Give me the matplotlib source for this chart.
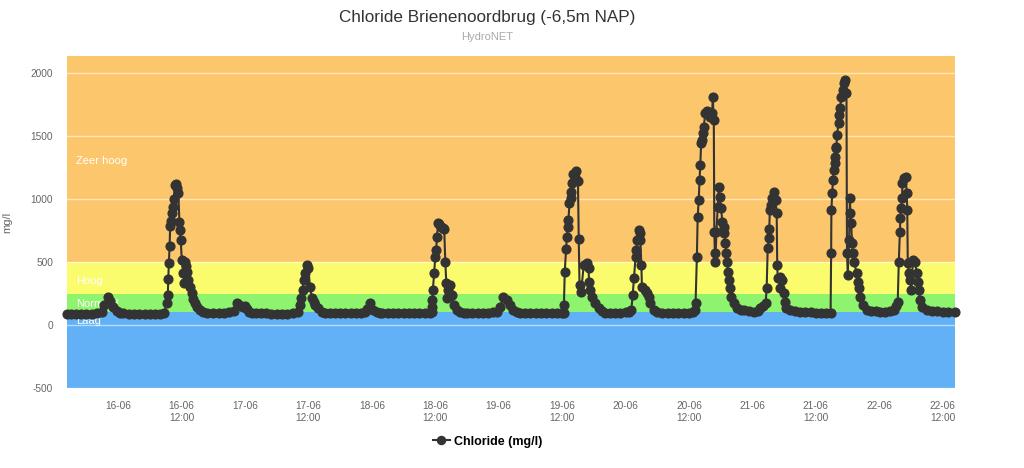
import numpy as np
import matplotlib
matplotlib.use("Agg")
import matplotlib.pyplot as plt
from matplotlib.lines import Line2D

plt.rcParams["font.family"] = ["Liberation Sans", "DejaVu Sans"]

# chloride readings, (hours since 16-06 00:00, mg/l)
readings = [
    (-9.7, 90), (-9, 90), (-8, 90), (-7, 90), (-6, 90), (-5, 91), (-4, 92), (-3.1, 100),
    (-2.65, 160), (-1.95, 222), (-1.5, 190), (-0.9, 145), (-0.25, 108), (0.4, 95),
    (1, 92), (2, 91), (3, 90), (4, 90), (5, 90), (6, 90), (7, 90), (8, 91), (8.6, 95),
    (9.33, 172), (9.4, 238), (9.5, 365), (9.6, 492), (9.75, 627), (9.85, 786), (9.95, 825),
    (10.15, 889), (10.4, 939), (10.5, 1000), (10.8, 1111), (10.9, 1120), (11.1, 1087),
    (11.4, 1048), (11.6, 820), (11.7, 754), (11.85, 675), (12.05, 516), (12.35, 413),
    (12.5, 333), (12.7, 502), (12.8, 470), (13.0, 423), (13.3, 357), (13.6, 300),
    (13.95, 254), (14.2, 210), (14.6, 175), (15.0, 140), (15.5, 119), (16.1, 105), (16.8, 98),
    (18, 93), (19, 95), (20, 97), (21, 102), (22, 112), (22.5, 172), (22.9, 160), (23.3, 150),
    (23.7, 145), (24.0, 150), (24.3, 125), (24.7, 106), (25.3, 98),
    (26, 93), (27, 92), (28, 92), (29, 91), (30, 91), (31, 91), (32, 91), (33, 92),
    (34.1, 106), (34.45, 159), (34.6, 214), (34.9, 278), (35.1, 357), (35.4, 413), (35.7, 476),
    (36.0, 452), (36.3, 304), (36.7, 214), (37.0, 185), (37.3, 159), (37.9, 132), (38.6, 106),
    (39.2, 95),
    (40, 93), (41, 92), (42, 92), (43, 92), (44, 92), (45, 93), (46, 95), (46.7, 105),
    (47.1, 130), (47.7, 172), (48.3, 119), (49, 100), (49.6, 93),
    (50, 92), (51, 92), (52, 92), (53, 92), (54, 92), (55, 92), (56, 92), (57, 92), (58, 92),
    (59, 94), (59.3, 100),
    (59.4, 145), (59.45, 198), (59.55, 278), (59.8, 415), (60.0, 537), (60.2, 595), (60.3, 701),
    (60.6, 812), (60.8, 800), (61.1, 780), (61.4, 770), (61.7, 759), (61.9, 502), (62.1, 331),
    (62.2, 212), (62.5, 280), (62.8, 320), (63.1, 238), (63.5, 159), (64.1, 119), (64.7, 100),
    (65.4, 93),
    (66, 92), (67, 92), (68, 92), (69, 93), (70, 95), (71, 100), (71.7, 106), (72.3, 145),
    (72.9, 225), (73.6, 198), (74.2, 159), (74.8, 119), (75.4, 100), (76.1, 93),
    (77, 92), (78, 92), (79, 92), (80, 92), (81, 92), (82, 92), (83, 92), (84, 92), (84.3, 93),
    (84.35, 159), (84.5, 423), (84.75, 600), (84.9, 701), (85.1, 775), (85.2, 833), (85.4, 966),
    (85.6, 1005), (85.7, 1058), (85.85, 1124), (86.0, 1198), (86.4, 1177), (86.65, 1225),
    (87.0, 1146), (87.15, 680), (87.3, 317), (87.6, 265), (88.1, 476), (88.7, 490), (89.0, 450),
    (89.1, 344), (89.3, 278), (89.6, 225), (90.3, 172), (90.9, 132), (91.5, 110), (92.2, 98),
    (93, 96), (94, 95), (95, 97), (96, 102), (96.6, 106), (97.1, 120),
    (97.35, 238), (97.6, 370), (97.9, 542), (98.05, 595), (98.25, 675), (98.5, 754), (98.7, 733),
    (98.8, 675), (99.0, 476), (99.1, 304), (99.6, 278), (100.1, 251), (100.5, 225), (100.7, 172),
    (101.3, 119), (102.0, 100), (102.9, 93),
    (104, 92), (105, 92), (106, 92), (107, 92), (108, 93), (108.7, 100), (109.2, 119),
    (109.25, 172), (109.5, 542), (109.65, 860), (109.85, 992), (110.0, 1151), (110.15, 1270),
    (110.3, 1442), (110.5, 1468), (110.7, 1521), (110.8, 1574), (111.1, 1680), (111.4, 1700),
    (111.75, 1693), (112.05, 1653), (112.4, 1680), (112.5, 1812), (112.7, 1627), (112.8, 740),
    (112.9, 569), (113.0, 502), (113.2, 740), (113.45, 939), (113.65, 1098), (113.8, 1018),
    (114.1, 926), (114.3, 820), (114.6, 780), (114.7, 728), (114.9, 648), (115.1, 569),
    (115.2, 502), (115.4, 423), (115.5, 357), (115.7, 291), (116.0, 225), (116.5, 172),
    (117.1, 132), (117.8, 122), (118.4, 119), (119.3, 110), (120.3, 101), (121.0, 115),
    (121.5, 132), (122.0, 150), (122.5, 172),
    (122.7, 291), (122.9, 609), (123.1, 688), (123.2, 759), (123.3, 913), (123.6, 952),
    (123.8, 1005), (124.1, 1058), (124.4, 992), (124.6, 886), (124.7, 476), (124.8, 370),
    (125.2, 384), (125.3, 291), (125.6, 357), (125.9, 251), (126.2, 185), (126.4, 132),
    (127.2, 119), (128, 112), (129.1, 106), (130, 103), (131, 101), (132, 99), (133, 96),
    (134, 94), (134.8, 93),
    (134.9, 569), (134.95, 913), (135.1, 1045), (135.25, 1151), (135.4, 1230), (135.6, 1283),
    (135.7, 1336), (135.75, 1402), (135.9, 1415), (136.0, 1508), (136.3, 1601), (136.45, 1667),
    (136.6, 1720), (136.8, 1812), (137.1, 1865), (137.4, 1918), (137.6, 1944), (137.8, 1839),
    (137.9, 569), (138.05, 397), (138.3, 675), (138.45, 1005), (138.55, 886), (138.7, 807),
    (138.85, 648), (139.05, 569), (139.3, 502), (139.7, 410), (139.95, 344), (140.1, 291),
    (140.4, 225), (140.95, 159), (141.7, 119), (142.5, 112), (143.3, 108), (144.2, 106),
    (145, 106), (146, 110), (146.7, 119), (147.2, 150),
    (147.5, 185), (147.7, 502), (147.9, 740), (148.0, 847), (148.15, 926), (148.3, 1005),
    (148.4, 1124), (148.65, 1164), (149.0, 1177), (149.2, 1045), (149.3, 913), (149.4, 490),
    (149.6, 410), (149.9, 357), (150.05, 278), (150.4, 516), (150.85, 502), (151.05, 410),
    (151.3, 344), (151.5, 278), (151.7, 198), (152.1, 145), (153.1, 119), (154, 112),
    (155, 108), (156, 106), (157, 106), (158.3, 106),
]
hours = [r[0] for r in readings]
chloride = [r[1] for r in readings]

# classification bands (mg/l)
band_names = ["Laag", "Normaal", "Hoog", "Zeer hoog"]
band_lo = [-500, 100, 250, 500]
band_hi = [100, 250, 500, 2135]
band_colors = ["#62b1f6", "#8ef46d", "#fbfb6e", "#fcc66c"]
band_label_y = [35, 170, 350, 1300]

tick_hours = list(range(0, 157, 12))
tick_labels = [f"{16 + h // 24:02d}-06" + ("\n12:00" if h % 24 else "") for h in tick_hours]
y_ticks = [-500, 0, 500, 1000, 1500, 2000]

fig = plt.figure(figsize=(10.24, 4.68), dpi=100)
ax = fig.add_axes([0.0654, 0.1709, 0.8672, 0.7094])

for lo, hi, c in zip(band_lo, band_hi, band_colors):
    ax.axhspan(lo, hi, color=c, lw=0, zorder=0)
for yt in y_ticks:
    ax.axhline(yt, color="white", lw=1, alpha=0.55, zorder=1)
for name, yl in zip(band_names, band_label_y):
    ax.text(-8.0, yl, name, color="white", fontsize=8, va="center", ha="left", zorder=2)

ax.plot(hours, chloride, "-o", color="#333333", lw=1.5, ms=6.3, zorder=3, clip_on=False)

ax.set_xlim(-9.67, 158.33)
ax.set_ylim(-500, 2135)
ax.set_xticks(tick_hours)
ax.set_xticklabels(tick_labels, fontsize=7.3, color="#666666", linespacing=1.25)
ax.set_yticks(y_ticks)
ax.set_yticklabels([str(v) for v in y_ticks], fontsize=7.3, color="#666666")
ax.tick_params(length=0, pad=10)
ax.tick_params(axis="x", pad=9)
for s in ax.spines.values():
    s.set_visible(False)
ax.set_ylabel("mg/l", fontsize=8, color="#666666", labelpad=13)

fig.text(0.476, 0.962, "Chloride Brienenoordbrug (-6,5m NAP)", ha="center", va="center",
         fontsize=12.3, color="#333333")
fig.text(0.476, 0.921, "HydroNET", ha="center", va="center", fontsize=8, color="#aaaaaa")

handle = Line2D([], [], color="#333333", lw=1.5, marker="o", ms=5.8)
fig.legend([handle], ["Chloride (mg/l)"], loc="center", bbox_to_anchor=(0.476, 0.056),
           frameon=False, handlelength=1.4, handletextpad=0.3,
           prop={"weight": "bold", "size": 9})

fig.savefig("out.png", dpi=100)
